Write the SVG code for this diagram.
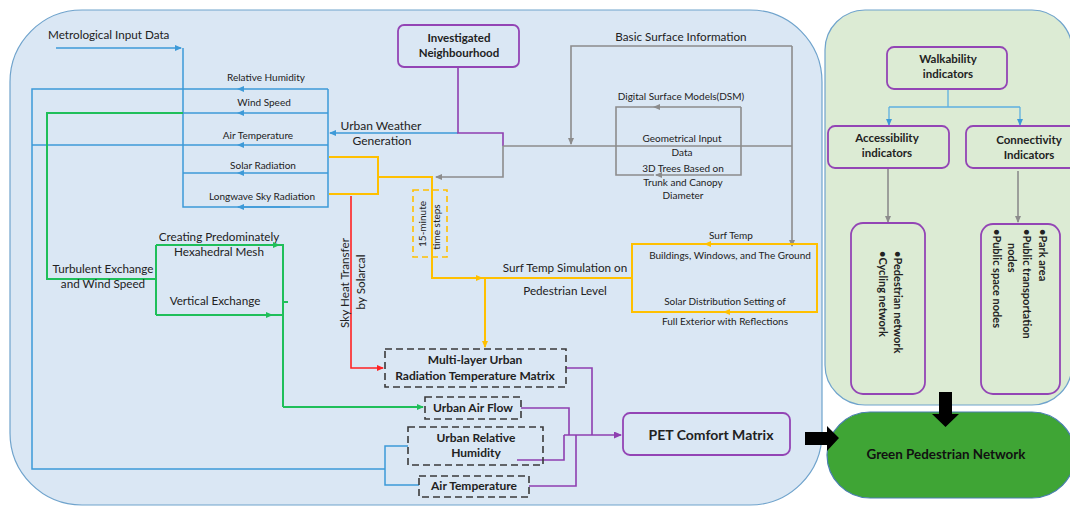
<svg xmlns="http://www.w3.org/2000/svg" width="1070" height="507" viewBox="0 0 1070 507">
<style>
text{font-family:Lato,"Liberation Sans",sans-serif;fill:#222;}
.l{font-size:10px;text-anchor:middle;}
.m{font-size:11.7px;text-anchor:middle;}
.b{font-size:11.5px;font-weight:bold;text-anchor:middle;}
.r{font-size:11.7px;}
.ln{fill:none;stroke-width:1.5;}
.blue{stroke:#3d9ad8;}
.green{stroke:#1fbf5a;stroke-width:2;}
.yel{stroke:#ffc000;stroke-width:2;}
.gray{stroke:#8c8c8c;stroke-width:1.6;}
.red{stroke:#f22;stroke-width:1.6;}
.pur{stroke:#8e3fb0;stroke-width:1.6;}
.lb{stroke:#5db0e0;stroke-width:1.3;}
.pbox{fill:none;stroke:#9345b5;stroke-width:1.8;}
.dbox{fill:none;stroke:#3a3a3a;stroke-width:1.6;stroke-dasharray:7 4;}
</style>
<defs>
<marker id="ab" markerWidth="7" markerHeight="6" refX="6" refY="3" orient="auto" markerUnits="userSpaceOnUse"><path d="M0,0 L7,3 L0,6z" fill="#3d9ad8"/></marker>
<marker id="ag" markerWidth="7" markerHeight="6" refX="6" refY="3" orient="auto" markerUnits="userSpaceOnUse"><path d="M0,0 L7,3 L0,6z" fill="#1fbf5a"/></marker>
<marker id="ay" markerWidth="7" markerHeight="6" refX="6" refY="3" orient="auto" markerUnits="userSpaceOnUse"><path d="M0,0 L7,3 L0,6z" fill="#ffc000"/></marker>
<marker id="agr" markerWidth="7" markerHeight="6" refX="6" refY="3" orient="auto" markerUnits="userSpaceOnUse"><path d="M0,0 L7,3 L0,6z" fill="#8c8c8c"/></marker>
<marker id="ar" markerWidth="7" markerHeight="6" refX="6" refY="3" orient="auto" markerUnits="userSpaceOnUse"><path d="M0,0 L7,3 L0,6z" fill="#f22"/></marker>
<marker id="ap" markerWidth="8" markerHeight="7" refX="7" refY="3.5" orient="auto" markerUnits="userSpaceOnUse"><path d="M0,0 L8,3.5 L0,7z" fill="#8e3fb0"/></marker>
<marker id="alb" markerWidth="7" markerHeight="6" refX="6" refY="3" orient="auto" markerUnits="userSpaceOnUse"><path d="M0,0 L7,3 L0,6z" fill="#3d9ad8"/></marker>
</defs>

<!-- panels -->
<g id="panel-urban">
<rect x="10" y="10" width="812" height="495" rx="72" fill="#dae7f4" stroke="#6fa3cc" stroke-width="1.2"/>
</g>
<g id="panel-walk">
<rect x="825" y="10" width="247" height="395" rx="40" fill="#dcebd4" stroke="#6fa3cc" stroke-width="1.2"/>
</g>
<g id="green-network">
<rect x="827" y="412" width="248" height="86" rx="43" fill="#3fa535" stroke="#4a7fb0" stroke-width="1.2"/>
<text class="b" x="946" y="459" style="font-size:13.4px;fill:#111">Green Pedestrian Network</text>
</g>

<!-- connectors -->
<g id="connectors">
<!-- blue -->
<path class="ln blue" d="M56,48 H181" marker-end="url(#ab)"/>
<path class="ln blue" d="M183,48 V207 H328 V89"/>
<path class="ln blue" d="M328,89 H238" marker-end="url(#ab)"/>
<path class="ln blue" d="M238,89 H32 V469 H385"/>
<path class="ln blue" d="M328,113 H238" marker-end="url(#ab)"/>
<path class="ln blue" d="M238,113 H183"/>
<path class="ln blue" d="M328,145 H238" marker-end="url(#ab)"/>
<path class="ln blue" d="M238,145 H32"/>
<path class="ln blue" d="M328,173 H238" marker-end="url(#ab)"/>
<path class="ln blue" d="M238,173 H183"/>
<path class="ln blue" d="M290,207 H238" marker-end="url(#ab)"/>
<path class="ln blue" d="M458,133 H330" marker-end="url(#ab)"/>
<path class="ln blue" d="M408,446 H385 V485 H419"/>
<!-- green -->
<path class="ln green" d="M183,113 H47 V279 H156"/>
<path class="ln green" d="M156,245 V315"/>
<path class="ln green" d="M156,245 H279" marker-end="url(#ag)"/>
<path class="ln green" d="M279,245 H283 V407"/>
<path class="ln green" d="M283,407 H423" marker-end="url(#ag)"/>
<path class="ln green" d="M156,315 H272" marker-end="url(#ag)"/>
<path class="ln green" d="M272,315 H283"/>
<path class="ln green" d="M283,302 H288"/>
<!-- purple -->
<path class="ln pur" d="M458,67 V133 H503 V146"/>
<path class="ln pur" d="M566,368 H592 V435"/>
<path class="ln pur" d="M521,408 H569 V435"/>
<path class="ln pur" d="M517,460 H564 V435"/>
<path class="ln pur" d="M529,486 H576 V435"/>
<path class="ln pur" d="M564,435 H621" marker-end="url(#ap)"/>
<!-- gray -->
<path class="ln gray" d="M503,146 H792"/>
<path class="ln gray" d="M792,46 V246" marker-end="url(#agr)"/>
<path class="ln gray" d="M792,46 H571 V144" marker-end="url(#agr)"/>
<path class="ln gray" d="M503,146 V177 H436" marker-end="url(#agr)"/>
<path class="ln gray" d="M741,107 H654" marker-end="url(#agr)"/>
<path class="ln gray" d="M654,107 H616 V175 H654"/>
<path class="ln gray" d="M741,107 V175 H656" marker-end="url(#agr)"/>
<path class="ln gray" d="M888,168 V222" marker-end="url(#agr)"/>
<path class="ln gray" d="M1018,171 V222" marker-end="url(#agr)"/>
<!-- walkability light blue -->
<path class="ln lb" d="M948,89 V107 M889,107 H1020"/>
<path class="ln lb" d="M889,107 V125" marker-end="url(#alb)"/>
<path class="ln lb" d="M1020,107 V125" marker-end="url(#alb)"/>
<!-- yellow -->
<path class="ln yel" d="M329,157 H378 V194 H329"/>
<path class="ln yel" d="M378,177 H432 V278 H482" marker-end="url(#ay)"/>
<path class="ln yel" d="M482,278 H632"/>
<path class="ln yel" d="M485,278 V347" marker-end="url(#ay)"/>
<path class="ln yel" d="M720,244 H705" marker-end="url(#ay)"/>
<path class="ln yel" d="M740,312 H724" marker-end="url(#ay)"/>
<!-- red -->
<path class="ln red" d="M351,196 V368 H383" marker-end="url(#ar)"/>
<!-- big black arrows -->
<path d="M805,432 H827 V426 L839,438 L827,451 V445 H805 Z" fill="#000"/>
<path d="M939,392 H952 V414 H959 L945.5,427 L932,414 H939 Z" fill="#000"/>
</g>

<!-- text-only labels -->
<g id="labels">
<text class="r" x="48" y="39">Metrological Input Data</text>
<text class="l" x="266" y="81">Relative Humidity</text>
<text class="l" x="264" y="106">Wind Speed</text>
<text class="l" x="258" y="139">Air Temperature</text>
<text class="l" x="263" y="169">Solar Radiation</text>
<text class="l" x="262" y="200">Longwave Sky Radiation</text>
<text class="m" x="381" y="130" style="font-size:12px">Urban Weather</text>
<text class="m" x="382" y="145" style="font-size:12px">Generation</text>
<text class="m" x="681" y="41">Basic Surface Information</text>
<text class="l" x="681" y="100">Digital Surface Models(DSM)</text>
<text class="l" x="682" y="142">Geometrical Input</text>
<text class="l" x="682" y="156">Data</text>
<text class="l" x="683" y="172">3D Trees Based on</text>
<text class="l" x="683" y="186">Trunk and Canopy</text>
<text class="l" x="683" y="199">Diameter</text>
<text class="l" x="731" y="239">Surf Temp</text>
<text class="l" x="730" y="259">Buildings, Windows, and The Ground</text>
<text class="m" x="565" y="272">Surf Temp Simulation on</text>
<text class="m" x="565" y="295">Pedestrian Level</text>
<text class="l" x="725" y="305">Solar Distribution Setting of</text>
<text class="l" x="725" y="325">Full Exterior with Reflections</text>
<text class="m" x="219" y="241">Creating Predominately</text>
<text class="m" x="219" y="256">Hexahedral Mesh</text>
<text class="m" x="103" y="273">Turbulent Exchange</text>
<text class="m" x="103" y="288">and Wind Speed</text>
<text class="m" x="215" y="305">Vertical Exchange</text>
<text class="m" transform="translate(349,283) rotate(-90)">Sky Heat Transfer</text>
<text class="m" transform="translate(365,282) rotate(-90)">by Solarcal</text>
</g>

<g id="time-steps">
<rect x="413" y="190" width="34" height="67" fill="none" stroke="#ffc000" stroke-width="1.6" stroke-dasharray="6 4"/>
<text class="l" transform="translate(426,224) rotate(-90)">15-minute</text>
<text class="l" transform="translate(440,227) rotate(-90)">time steps</text>
</g>

<g id="investigated">
<rect class="pbox" x="398" y="25" width="121" height="42" rx="6"/>
<text class="b" x="459" y="42">Investigated</text>
<text class="b" x="459" y="57">Neighbourhood</text>
</g>

<g id="surf-temp-box">
<rect x="632" y="244" width="185" height="68" fill="none" stroke="#ffc000" stroke-width="2"/>
</g>

<g id="multilayer">
<rect class="dbox" x="385" y="349" width="181" height="38"/>
<text class="b" x="475" y="364" style="font-size:12px">Multi-layer Urban</text>
<text class="b" x="475" y="380" style="font-size:12px">Radiation Temperature Matrix</text>
</g>
<g id="air-flow">
<rect class="dbox" x="425" y="397" width="96" height="22"/>
<text class="b" x="473" y="412" style="font-size:12px">Urban Air Flow</text>
</g>
<g id="rel-humidity">
<rect class="dbox" x="408" y="427" width="135" height="38"/>
<text class="b" x="476" y="442" style="font-size:12px">Urban Relative</text>
<text class="b" x="476" y="457" style="font-size:12px">Humidity</text>
</g>
<g id="air-temp">
<rect class="dbox" x="419" y="476" width="110" height="21"/>
<text class="b" x="474" y="490" style="font-size:12px">Air Temperature</text>
</g>
<g id="pet">
<rect class="pbox" x="623" y="413" width="167" height="42" rx="7"/>
<text class="b" x="711" y="440" style="font-size:14px">PET Comfort Matrix</text>
</g>

<g id="walkability">
<rect class="pbox" x="887" y="47" width="120" height="42" rx="7"/>
<text class="b" x="948" y="63">Walkability</text>
<text class="b" x="948" y="78">indicators</text>
</g>
<g id="accessibility">
<rect class="pbox" x="828" y="126" width="121" height="42" rx="7"/>
<text class="b" x="887" y="142">Accessibility</text>
<text class="b" x="887" y="157">indicators</text>
</g>
<g id="connectivity">
<rect class="pbox" x="966" y="126" width="115" height="42" rx="7"/>
<text class="b" x="1029" y="144">Connectivity</text>
<text class="b" x="1029" y="159">Indicators</text>
</g>
<g id="access-list">
<rect class="pbox" x="851" y="223" width="74" height="171" rx="12" stroke-width="1.4"/>
<text class="r" transform="translate(894,251) rotate(90)" style="font-weight:bold;font-size:11px">•Pedestrian network</text>
<text class="r" transform="translate(879,251) rotate(90)" style="font-weight:bold;font-size:11px">•Cycling network</text>
</g>
<g id="connect-list">
<rect class="pbox" x="981" y="224" width="79" height="170" rx="12" stroke-width="1.4"/>
<text class="r" transform="translate(1039,229) rotate(90)" style="font-weight:bold;font-size:11px">•Park area</text>
<text class="r" transform="translate(1023,229) rotate(90)" style="font-weight:bold;font-size:11px">•Public transportation</text>
<text class="r" transform="translate(1008,243) rotate(90)" style="font-weight:bold;font-size:11px">nodes</text>
<text class="r" transform="translate(993,229) rotate(90)" style="font-weight:bold;font-size:11px">•Public space nodes</text>
</g>
</svg>
